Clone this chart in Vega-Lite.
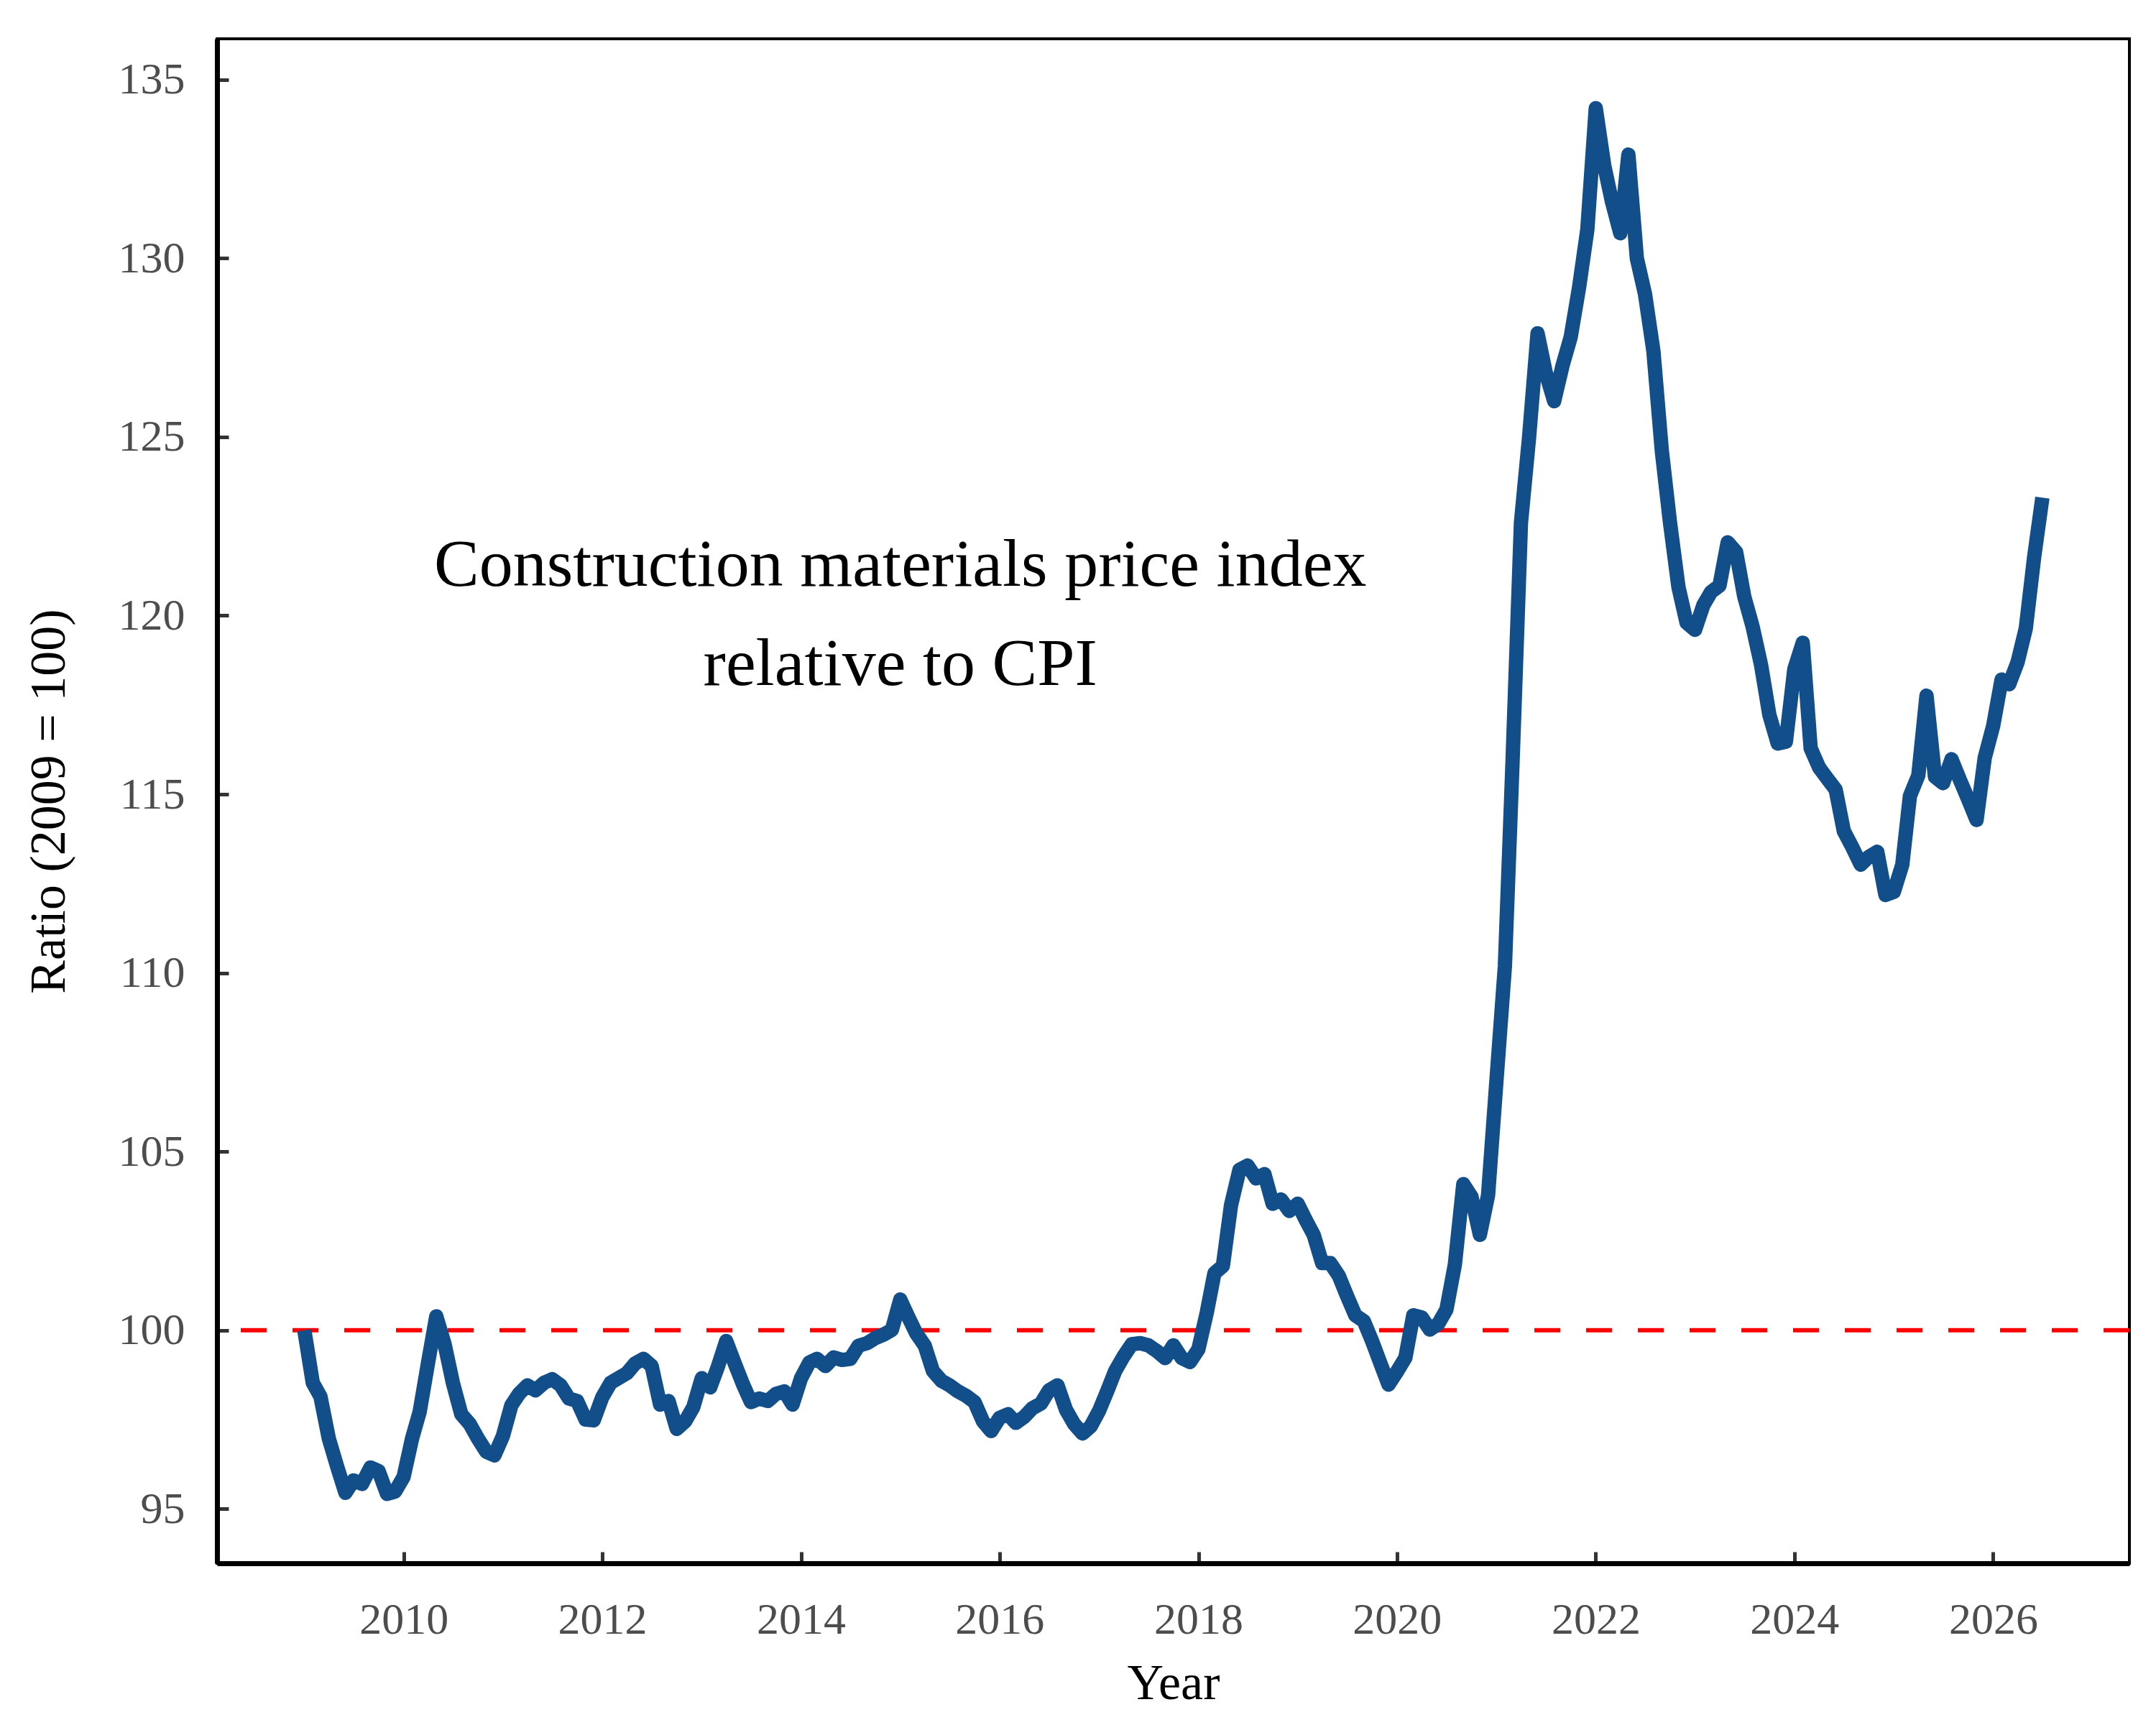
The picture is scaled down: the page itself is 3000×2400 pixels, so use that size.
{
  "$schema": "https://vega.github.io/schema/vega-lite/v6.json",
  "width": 2661,
  "height": 2121,
  "autosize": {"type": "none"},
  "padding": {"left": 302, "top": 54, "right": 37, "bottom": 225},
  "background": "white",
  "config": {
    "view": {"stroke": "black", "strokeWidth": 4},
    "axis": {
      "labelFont": "Liberation Serif",
      "labelFontSize": 62,
      "labelColor": "#4d4d4d",
      "titleFont": "Liberation Serif",
      "titleFontSize": 70,
      "titleFontWeight": "normal",
      "titleColor": "black",
      "domainColor": "black",
      "domainWidth": 7,
      "tickColor": "#333333",
      "tickWidth": 5,
      "tickSize": -16,
      "grid": false
    }
  },
  "layer": [
    {
      "data": {"values": [{"value": 100}]},
      "mark": {"type": "rule", "color": "#ff0000", "strokeWidth": 6, "strokeDash": [36, 36]},
      "encoding": {
        "y": {"field": "value", "type": "quantitative", "title": "Ratio (2009 = 100)"}
      }
    },
    {
      "data": {
        "values": [
          {"date": "2009-01-01", "value": 100.0},
          {"date": "2009-02-01", "value": 98.53},
          {"date": "2009-03-01", "value": 98.15},
          {"date": "2009-04-01", "value": 96.97},
          {"date": "2009-05-01", "value": 96.2},
          {"date": "2009-06-01", "value": 95.45},
          {"date": "2009-07-01", "value": 95.8},
          {"date": "2009-08-01", "value": 95.7},
          {"date": "2009-09-01", "value": 96.16},
          {"date": "2009-10-01", "value": 96.06},
          {"date": "2009-11-01", "value": 95.42},
          {"date": "2009-12-01", "value": 95.49},
          {"date": "2010-01-01", "value": 95.9},
          {"date": "2010-02-01", "value": 96.97},
          {"date": "2010-03-01", "value": 97.72},
          {"date": "2010-04-01", "value": 99.1},
          {"date": "2010-05-01", "value": 100.39},
          {"date": "2010-06-01", "value": 99.6},
          {"date": "2010-07-01", "value": 98.53},
          {"date": "2010-08-01", "value": 97.65},
          {"date": "2010-09-01", "value": 97.38},
          {"date": "2010-10-01", "value": 96.97},
          {"date": "2010-11-01", "value": 96.6},
          {"date": "2010-12-01", "value": 96.5},
          {"date": "2011-01-01", "value": 97.04},
          {"date": "2011-02-01", "value": 97.9},
          {"date": "2011-03-01", "value": 98.22},
          {"date": "2011-04-01", "value": 98.46},
          {"date": "2011-05-01", "value": 98.32},
          {"date": "2011-06-01", "value": 98.53},
          {"date": "2011-07-01", "value": 98.63},
          {"date": "2011-08-01", "value": 98.46},
          {"date": "2011-09-01", "value": 98.09},
          {"date": "2011-10-01", "value": 98.02},
          {"date": "2011-11-01", "value": 97.5},
          {"date": "2011-12-01", "value": 97.48},
          {"date": "2012-01-01", "value": 98.12},
          {"date": "2012-02-01", "value": 98.53},
          {"date": "2012-03-01", "value": 98.66},
          {"date": "2012-04-01", "value": 98.8},
          {"date": "2012-05-01", "value": 99.07},
          {"date": "2012-06-01", "value": 99.2},
          {"date": "2012-07-01", "value": 99.0},
          {"date": "2012-08-01", "value": 97.92},
          {"date": "2012-09-01", "value": 98.02},
          {"date": "2012-10-01", "value": 97.24},
          {"date": "2012-11-01", "value": 97.45},
          {"date": "2012-12-01", "value": 97.85},
          {"date": "2013-01-01", "value": 98.66},
          {"date": "2013-02-01", "value": 98.4},
          {"date": "2013-03-01", "value": 98.97},
          {"date": "2013-04-01", "value": 99.7},
          {"date": "2013-05-01", "value": 99.1},
          {"date": "2013-06-01", "value": 98.5},
          {"date": "2013-07-01", "value": 97.99},
          {"date": "2013-08-01", "value": 98.09},
          {"date": "2013-09-01", "value": 98.02},
          {"date": "2013-10-01", "value": 98.22},
          {"date": "2013-11-01", "value": 98.29},
          {"date": "2013-12-01", "value": 97.92},
          {"date": "2014-01-01", "value": 98.66},
          {"date": "2014-02-01", "value": 99.1},
          {"date": "2014-03-01", "value": 99.2},
          {"date": "2014-04-01", "value": 99.0},
          {"date": "2014-05-01", "value": 99.24},
          {"date": "2014-06-01", "value": 99.17},
          {"date": "2014-07-01", "value": 99.2},
          {"date": "2014-08-01", "value": 99.57},
          {"date": "2014-09-01", "value": 99.64},
          {"date": "2014-10-01", "value": 99.78},
          {"date": "2014-11-01", "value": 99.88},
          {"date": "2014-12-01", "value": 100.01},
          {"date": "2015-01-01", "value": 100.86},
          {"date": "2015-02-01", "value": 100.35},
          {"date": "2015-03-01", "value": 99.91},
          {"date": "2015-04-01", "value": 99.57},
          {"date": "2015-05-01", "value": 98.86},
          {"date": "2015-06-01", "value": 98.59},
          {"date": "2015-07-01", "value": 98.46},
          {"date": "2015-08-01", "value": 98.29},
          {"date": "2015-09-01", "value": 98.16},
          {"date": "2015-10-01", "value": 97.99},
          {"date": "2015-11-01", "value": 97.45},
          {"date": "2015-12-01", "value": 97.18},
          {"date": "2016-01-01", "value": 97.55},
          {"date": "2016-02-01", "value": 97.65},
          {"date": "2016-03-01", "value": 97.41},
          {"date": "2016-04-01", "value": 97.58},
          {"date": "2016-05-01", "value": 97.82},
          {"date": "2016-06-01", "value": 97.95},
          {"date": "2016-07-01", "value": 98.32},
          {"date": "2016-08-01", "value": 98.46},
          {"date": "2016-09-01", "value": 97.78},
          {"date": "2016-10-01", "value": 97.38},
          {"date": "2016-11-01", "value": 97.11},
          {"date": "2016-12-01", "value": 97.31},
          {"date": "2017-01-01", "value": 97.75},
          {"date": "2017-02-01", "value": 98.32},
          {"date": "2017-03-01", "value": 98.86},
          {"date": "2017-04-01", "value": 99.27},
          {"date": "2017-05-01", "value": 99.61},
          {"date": "2017-06-01", "value": 99.64},
          {"date": "2017-07-01", "value": 99.58},
          {"date": "2017-08-01", "value": 99.42},
          {"date": "2017-09-01", "value": 99.22},
          {"date": "2017-10-01", "value": 99.58},
          {"date": "2017-11-01", "value": 99.22},
          {"date": "2017-12-01", "value": 99.11},
          {"date": "2018-01-01", "value": 99.47},
          {"date": "2018-02-01", "value": 100.5},
          {"date": "2018-03-01", "value": 101.6},
          {"date": "2018-04-01", "value": 101.8},
          {"date": "2018-05-01", "value": 103.5},
          {"date": "2018-06-01", "value": 104.49},
          {"date": "2018-07-01", "value": 104.61},
          {"date": "2018-08-01", "value": 104.25},
          {"date": "2018-09-01", "value": 104.37},
          {"date": "2018-10-01", "value": 103.54},
          {"date": "2018-11-01", "value": 103.66},
          {"date": "2018-12-01", "value": 103.34},
          {"date": "2019-01-01", "value": 103.54},
          {"date": "2019-02-01", "value": 103.07},
          {"date": "2019-03-01", "value": 102.67},
          {"date": "2019-04-01", "value": 101.88},
          {"date": "2019-05-01", "value": 101.88},
          {"date": "2019-06-01", "value": 101.53},
          {"date": "2019-07-01", "value": 100.97},
          {"date": "2019-08-01", "value": 100.42},
          {"date": "2019-09-01", "value": 100.26},
          {"date": "2019-10-01", "value": 99.71},
          {"date": "2019-11-01", "value": 99.08},
          {"date": "2019-12-01", "value": 98.48},
          {"date": "2020-01-01", "value": 98.84},
          {"date": "2020-02-01", "value": 99.23},
          {"date": "2020-03-01", "value": 100.42},
          {"date": "2020-04-01", "value": 100.36},
          {"date": "2020-05-01", "value": 100.02},
          {"date": "2020-06-01", "value": 100.18},
          {"date": "2020-07-01", "value": 100.58},
          {"date": "2020-08-01", "value": 101.84},
          {"date": "2020-09-01", "value": 104.09},
          {"date": "2020-10-01", "value": 103.74},
          {"date": "2020-11-01", "value": 102.67},
          {"date": "2020-12-01", "value": 103.78},
          {"date": "2021-01-01", "value": 107.0},
          {"date": "2021-02-01", "value": 110.2},
          {"date": "2021-03-01", "value": 115.9},
          {"date": "2021-04-01", "value": 122.6},
          {"date": "2021-05-01", "value": 125.0},
          {"date": "2021-06-01", "value": 127.9},
          {"date": "2021-07-01", "value": 126.8},
          {"date": "2021-08-01", "value": 126.0},
          {"date": "2021-09-01", "value": 127.0},
          {"date": "2021-10-01", "value": 127.8},
          {"date": "2021-11-01", "value": 129.2},
          {"date": "2021-12-01", "value": 130.8},
          {"date": "2022-01-01", "value": 134.2},
          {"date": "2022-02-01", "value": 132.6},
          {"date": "2022-03-01", "value": 131.6},
          {"date": "2022-04-01", "value": 130.7},
          {"date": "2022-05-01", "value": 132.9},
          {"date": "2022-06-01", "value": 130.0},
          {"date": "2022-07-01", "value": 129.0},
          {"date": "2022-08-01", "value": 127.4},
          {"date": "2022-09-01", "value": 124.6},
          {"date": "2022-10-01", "value": 122.6},
          {"date": "2022-11-01", "value": 120.8},
          {"date": "2022-12-01", "value": 119.8},
          {"date": "2023-01-01", "value": 119.6},
          {"date": "2023-02-01", "value": 120.3},
          {"date": "2023-03-01", "value": 120.66},
          {"date": "2023-04-01", "value": 120.84},
          {"date": "2023-05-01", "value": 122.05},
          {"date": "2023-06-01", "value": 121.78},
          {"date": "2023-07-01", "value": 120.53},
          {"date": "2023-08-01", "value": 119.68},
          {"date": "2023-09-01", "value": 118.61},
          {"date": "2023-10-01", "value": 117.23},
          {"date": "2023-11-01", "value": 116.42},
          {"date": "2023-12-01", "value": 116.47},
          {"date": "2024-01-01", "value": 118.5},
          {"date": "2024-02-01", "value": 119.24},
          {"date": "2024-03-01", "value": 116.29},
          {"date": "2024-04-01", "value": 115.75},
          {"date": "2024-05-01", "value": 115.44},
          {"date": "2024-06-01", "value": 115.13},
          {"date": "2024-07-01", "value": 113.97},
          {"date": "2024-08-01", "value": 113.52},
          {"date": "2024-09-01", "value": 113.03},
          {"date": "2024-10-01", "value": 113.25},
          {"date": "2024-11-01", "value": 113.39},
          {"date": "2024-12-01", "value": 112.18},
          {"date": "2025-01-01", "value": 112.27},
          {"date": "2025-02-01", "value": 113.03},
          {"date": "2025-03-01", "value": 114.95},
          {"date": "2025-04-01", "value": 115.53},
          {"date": "2025-05-01", "value": 117.76},
          {"date": "2025-06-01", "value": 115.49},
          {"date": "2025-07-01", "value": 115.31},
          {"date": "2025-08-01", "value": 115.98},
          {"date": "2025-09-01", "value": 115.4},
          {"date": "2025-10-01", "value": 114.86},
          {"date": "2025-11-01", "value": 114.28},
          {"date": "2025-12-01", "value": 116.02},
          {"date": "2026-01-01", "value": 116.91},
          {"date": "2026-02-01", "value": 118.21},
          {"date": "2026-03-01", "value": 118.08},
          {"date": "2026-04-01", "value": 118.7},
          {"date": "2026-05-01", "value": 119.64},
          {"date": "2026-06-01", "value": 121.65},
          {"date": "2026-07-01", "value": 123.3}
        ]
      },
      "mark": {"type": "line", "color": "#124e89", "strokeWidth": 20, "strokeJoin": "round", "strokeCap": "butt"},
      "encoding": {
        "x": {
          "field": "date",
          "type": "temporal",
          "title": "Year",
          "scale": {
            "type": "utc",
            "domain": [
              {"year": 2008, "month": 2, "date": 15, "utc": true},
              {"year": 2027, "month": 5, "date": 17, "utc": true}
            ]
          },
          "axis": {
            "values": [
              {"year": 2010, "utc": true},
              {"year": 2012, "utc": true},
              {"year": 2014, "utc": true},
              {"year": 2016, "utc": true},
              {"year": 2018, "utc": true},
              {"year": 2020, "utc": true},
              {"year": 2022, "utc": true},
              {"year": 2024, "utc": true},
              {"year": 2026, "utc": true}
            ],
            "format": "%Y",
            "labelPadding": 64,
            "titlePadding": 24
          }
        },
        "y": {
          "field": "value",
          "type": "quantitative",
          "title": "Ratio (2009 = 100)",
          "scale": {"domain": [93.48, 136.14], "nice": false, "zero": false},
          "axis": {
            "values": [95, 100, 105, 110, 115, 120, 125, 130, 135],
            "labelPadding": 61,
            "titlePadding": 60
          }
        }
      }
    },
    {
      "data": {
        "values": [
          {"date": "2015-01-01", "value": 121.4, "label": "Construction materials price index\nrelative to CPI"}
        ]
      },
      "mark": {
        "type": "text",
        "font": "Liberation Serif",
        "fontSize": 94,
        "lineHeight": 138,
        "lineBreak": "\n",
        "align": "center",
        "baseline": "middle",
        "color": "black"
      },
      "encoding": {
        "x": {"field": "date", "type": "temporal", "title": "Year"},
        "y": {"field": "value", "type": "quantitative", "title": "Ratio (2009 = 100)"},
        "text": {"field": "label"}
      }
    }
  ]
}
